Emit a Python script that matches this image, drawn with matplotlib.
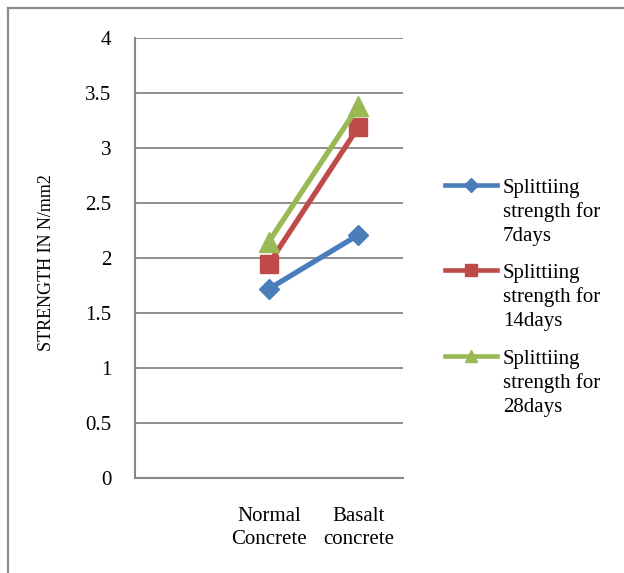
import numpy as np
import matplotlib
matplotlib.use('Agg')
import matplotlib.pyplot as plt
from matplotlib.lines import Line2D

plt.rcParams['font.family'] = 'Liberation Serif'

# Splitting strength data (N/mm2); first category slot is left empty
categories = ['', 'Normal\nConcrete', 'Basalt\nconcrete']
strength_7 = [np.nan, 1.72, 2.21]
strength_14 = [np.nan, 1.95, 3.19]
strength_28 = [np.nan, 2.15, 3.38]
series_labels = ['Splittiing\nstrength for\n7days',
                 'Splittiing\nstrength for\n14days',
                 'Splittiing\nstrength for\n28days']
yticks = [0, 0.5, 1, 1.5, 2, 2.5, 3, 3.5, 4]

colors = ['#4A7EBB', '#BE4B48', '#98B954']
markers = ['D', 's', '^']
msizes = [10, 13, 14]
leg_msizes = [7, 9, 9]

fig = plt.figure(figsize=(6.24, 5.73), dpi=100)
ax = fig.add_axes([135/624, 1-478/573, 268/624, 440/573])

x = np.arange(len(categories))
for vals, c, m, ms in zip([strength_7, strength_14, strength_28], colors, markers, msizes):
    ax.plot(x, vals, color=c, lw=3.8, marker=m, ms=ms, mec=c, mfc=c)

ax.set_xlim(-0.5, 2.5)
ax.set_ylim(0, 4)
ax.set_yticks(yticks)
ax.set_yticklabels(['0', '0.5', '1', '1.5', '2', '2.5', '3', '3.5', '4'])
ax.set_xticks(x)
ax.set_xticklabels(categories, linespacing=1.3)
ax.tick_params(axis='y', length=0, pad=17, labelsize=15)
ax.tick_params(axis='x', length=0, pad=21, labelsize=15)
ax.grid(axis='y', color='#868686', lw=1.3)
ax.set_axisbelow(True)
for s in ['top', 'right']:
    ax.spines[s].set_visible(False)
for s in ['left', 'bottom']:
    ax.spines[s].set_color('#868686')
    ax.spines[s].set_linewidth(1.5)

ax.set_ylabel('STRENGTH IN N/mm2', fontsize=13)
ax.yaxis.set_label_coords(-0.30, 0.49)

# legend drawn entry by entry so the handle sits next to the first line
leg_y = [185, 270, 356]
for lab, c, m, ms, yy in zip(series_labels, colors, markers, leg_msizes, leg_y):
    fy = 1 - yy/573
    fig.add_artist(Line2D([445/624, 497/624], [fy, fy], color=c, lw=3.3))
    fig.add_artist(Line2D([471/624], [fy], color=c, marker=m, ms=ms, mec=c, mfc=c))
    fig.text(503/624, fy + 6/573, lab, fontsize=15, va='top', ha='left', linespacing=1.3)

# chart frame
fig.add_artist(Line2D([8/624, 8/624], [0, 1-8/573], color='#8C8C8C', lw=1.6))
fig.add_artist(Line2D([8/624, 1], [1-8/573, 1-8/573], color='#8C8C8C', lw=1.6))

fig.savefig('out.png', dpi=100)
